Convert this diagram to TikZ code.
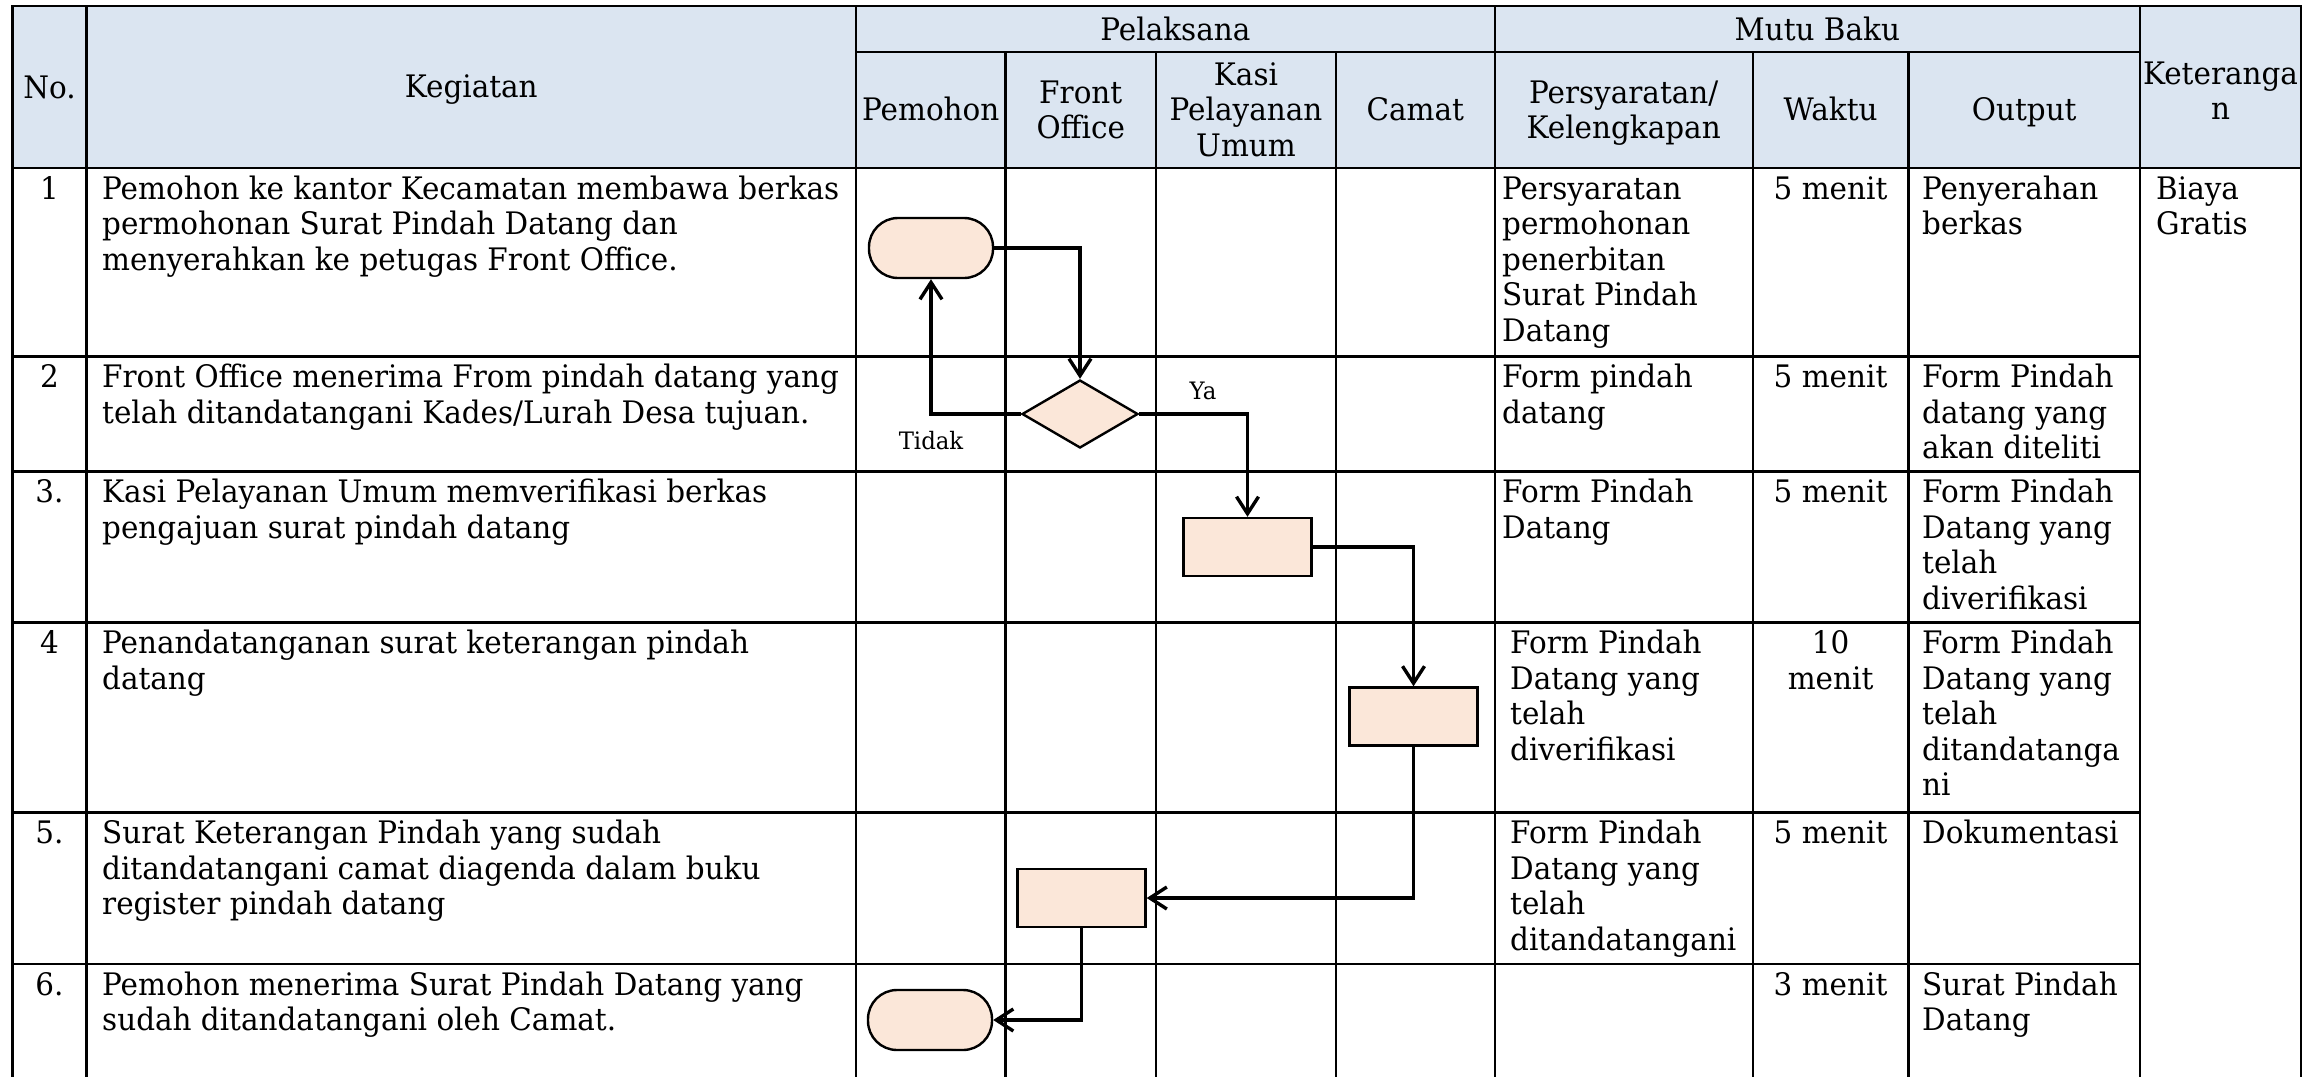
\documentclass[tikz,border=0pt]{standalone}
\usepackage{fontspec}
\setmainfont{DejaVu Serif}[FakeStretch=0.95]
\usetikzlibrary{arrows.meta,shapes.geometric}
\definecolor{headblue}{HTML}{DBE5F1}
\definecolor{peach}{HTML}{FBE7D9}
\newcommand\cellfont{\fontsize{31}{35.5}\selectfont}
\newcommand\tagfont{\fontsize{24}{28}\selectfont}
% fixes the height of a cell's first line so that text sits on a known baseline
\newcommand\fl{\rule{0pt}{24pt}}

\begin{document}
\begin{tikzpicture}[x=1pt,y=-1pt,
  grid/.style={line width=2.2pt,line cap=rect},
  body/.style={anchor=north west,inner sep=0pt,align=left,font=\cellfont},
  mid/.style={anchor=north,inner sep=0pt,align=center,font=\cellfont},
  tag/.style={anchor=center,inner sep=0pt,font=\tagfont},
  shapeline/.style={draw=black,line width=2.4pt,fill=peach,inner sep=0pt},
  terminal/.style={shapeline,rectangle,rounded corners=29pt,minimum width=124pt,minimum height=60pt},
  procbox/.style={shapeline,rectangle,minimum width=128pt,minimum height=58pt},
  decide/.style={shapeline,diamond,minimum width=116pt,minimum height=68pt},
  flow/.style={line width=3.6pt,-{Straight Barb[length=17pt,width=22pt,line width=3.4pt]}}
]
\useasboundingbox (0,0) rectangle (2323,1076);

% header band
\fill[headblue] (12.5,6) rectangle (2301,168);

% table rules
\draw[grid] (12.5,6) -- (2301,6);
\draw[grid] (856,52) -- (2140,52);
\draw[grid] (12.5,168) -- (2301,168);
\foreach \yy in {356.5,471.5,622.5,812.5,964}
  \draw[grid] (12.5,\yy) -- (2140,\yy);
\foreach \xx in {12.5,86.5,856,1494.7,2140,2301}
  \draw[grid] (\xx,6) -- (\xx,1076);
\foreach \xx in {1005.5,1156,1336,1752.6,1908.5}
  \draw[grid] (\xx,52) -- (\xx,1076);

% header texts
\node[mid] (hno)   at (49.5,74)    {\fl No.};
\node[mid] (hkeg)  at (471.25,73)  {\fl Kegiatan};
\node[mid] (hpel)  at (1175.35,16) {\fl Pelaksana};
\node[mid] (hmutu) at (1817.35,16) {\fl Mutu Baku};
\node[mid] (hpem)  at (930.75,96.5)  {\fl Pemohon};
\node[mid] (hfo)   at (1080.75,79)   {\fl Front\\Office};
\node[mid] (hkasi) at (1246,61)      {\fl Kasi\\Pelayanan\\Umum};
\node[mid] (hcam)  at (1415.35,96.5) {\fl Camat};
\node[mid] (hpers) at (1623.65,79)   {\fl Persyaratan/\\Kelengkapan};
\node[mid] (hwak)  at (1830.55,96.5) {\fl Waktu};
\node[mid] (hout)  at (2024.25,96.5) {\fl Output};
\node[mid] (hket)  at (2220.5,60)    {\fl Keteranga\\n};

% numbers
\node[mid] (n1) at (49.5,175)   {\fl 1};
\node[mid] (n2) at (49.5,363.5) {\fl 2};
\node[mid] (n3) at (49.5,478.5) {\fl 3.};
\node[mid] (n4) at (49.5,629.5) {\fl 4};
\node[mid] (n5) at (49.5,819.5) {\fl 5.};
\node[mid] (n6) at (49.5,971)   {\fl 6.};

% activities
\node[body] (k1) at (102,175)   {\fl Pemohon ke kantor Kecamatan membawa berkas\\permohonan Surat Pindah Datang dan\\menyerahkan ke petugas Front Office.};
\node[body] (k2) at (102,363.5) {\fl Front Office menerima From pindah datang yang\\telah ditandatangani Kades/Lurah Desa tujuan.};
\node[body] (k3) at (102,478.5) {\fl Kasi Pelayanan Umum memverifikasi berkas\\pengajuan surat pindah datang};
\node[body] (k4) at (102,629.5) {\fl Penandatanganan surat keterangan pindah\\datang};
\node[body] (k5) at (102,819.5) {\fl Surat Keterangan Pindah yang sudah\\ditandatangani camat diagenda dalam buku\\register pindah datang};
\node[body] (k6) at (102,971)   {\fl Pemohon menerima Surat Pindah Datang yang\\sudah ditandatangani oleh Camat.};

% requirements
\node[body] (p1) at (1502,175)   {\fl Persyaratan\\permohonan\\penerbitan\\Surat Pindah\\Datang};
\node[body] (p2) at (1502,363.5) {\fl Form pindah\\datang};
\node[body] (p3) at (1502,478.5) {\fl Form Pindah\\Datang};
\node[body] (p4) at (1510,629.5) {\fl Form Pindah\\Datang yang\\telah\\diverifikasi};
\node[body] (p5) at (1510,819.5) {\fl Form Pindah\\Datang yang\\telah\\ditandatangani};

% time
\node[mid] (w1) at (1830.55,175)   {\fl 5 menit};
\node[mid] (w2) at (1830.55,363.5) {\fl 5 menit};
\node[mid] (w3) at (1830.55,478.5) {\fl 5 menit};
\node[mid] (w4) at (1830.55,629.5) {\fl 10\\menit};
\node[mid] (w5) at (1830.55,819.5) {\fl 5 menit};
\node[mid] (w6) at (1830.55,971)   {\fl 3 menit};

% output
\node[body] (o1) at (1922,175)   {\fl Penyerahan\\berkas};
\node[body] (o2) at (1922,363.5) {\fl Form Pindah\\datang yang\\akan diteliti};
\node[body] (o3) at (1922,478.5) {\fl Form Pindah\\Datang yang\\telah\\diverifikasi};
\node[body] (o4) at (1922,629.5) {\fl Form Pindah\\Datang yang\\telah\\ditandatanga\\ni};
\node[body] (o5) at (1922,819.5) {\fl Dokumentasi};
\node[body] (o6) at (1922,971)   {\fl Surat Pindah\\Datang};

% remarks
\node[body] (ket) at (2156,175) {\fl Biaya\\Gratis};

% flow symbols
\node[terminal] (start)  at (931,248)    {};
\node[decide]   (dec)    at (1080,414)   {};
\node[procbox]  (kasi)   at (1247.5,547) {};
\node[procbox]  (camat)  at (1413.5,716.5) {};
\node[procbox]  (fo)     at (1081.5,898) {};
\node[terminal] (finish) at (930,1020)   {};

% connectors
\draw[flow] (start.east) -| (dec.north);
\draw[flow] (dec.west) -| (start.south);
\draw[flow] (dec.east) -| (kasi.north);
\draw[flow] (kasi.east) -| (camat.north);
\draw[flow] (camat.south) |- (fo.east);
\draw[flow] (fo.south) |- (finish.east);

% branch labels
\node[tag] (tidak) at (931,441) {Tidak};
\node[tag] (ya)    at (1203,391) {Ya};
\end{tikzpicture}
\end{document}
